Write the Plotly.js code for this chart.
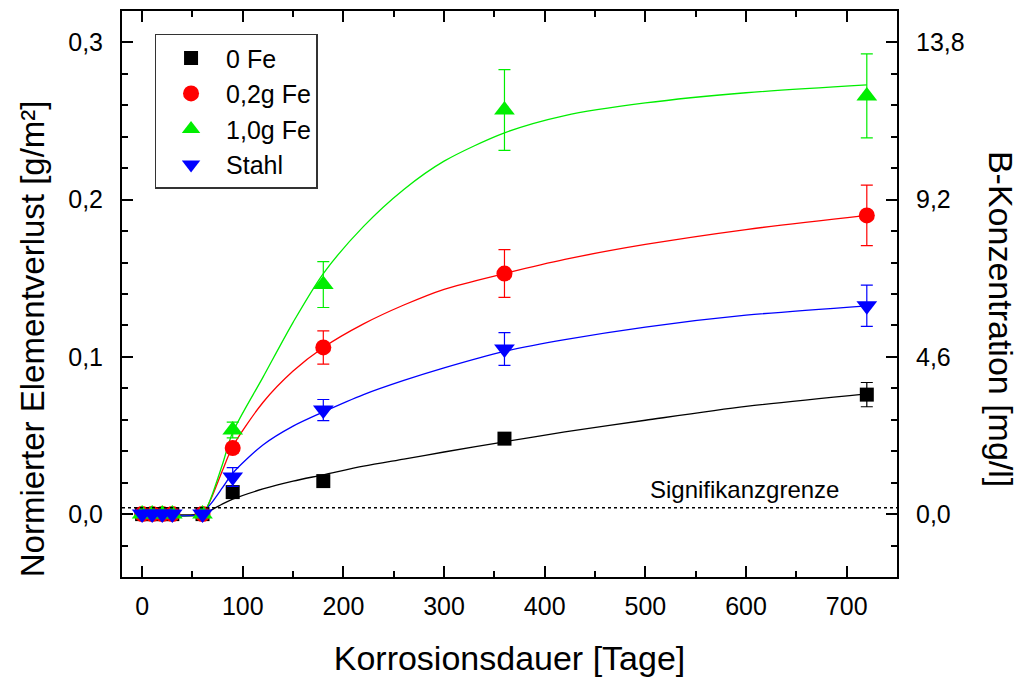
<!DOCTYPE html>
<html>
<head>
<meta charset="utf-8">
<script src="https://cdn.plot.ly/plotly-3.0.1.min.js"></script>
<style>html,body{margin:0;padding:0;background:#fff;}#chart{width:1023px;height:682px;}</style>
</head>
<body>
<div id="chart"></div>
<script>
// ---- measured data (days, g/m²) ----
const days = [0, 10, 20, 30, 60, 90, 180, 360, 720];

const fe0 = [0, 0, 0, 0, 0, 0.014, 0.021, 0.048, 0.076];
const fe0Err = [0, 0, 0, 0, 0, 0.002, 0.002, 0.003, 0.0077];

const fe02 = [0, 0, 0, 0, 0, 0.042, 0.106, 0.153, 0.190];
const fe02Err = [0, 0, 0, 0, 0, 0.003, 0.0106, 0.0152, 0.0192];

const fe10 = [0, 0, 0, 0, 0, 0.0535, 0.146, 0.257, 0.266];
const fe10Err = [0, 0, 0, 0, 0, 0.005, 0.0146, 0.0257, 0.0267];

const stahl = [0, 0, 0, 0, 0, 0.0236, 0.0662, 0.105, 0.1325];
const stahlErr = [0, 0, 0, 0, 0, 0.006, 0.0067, 0.0104, 0.0131];

// fitted curves
const fitDays = [0, 60, 65, 70, 80, 90, 120, 150, 180, 220, 260, 300, 360, 420, 500, 600, 720];
const fitFe0  = [0, 0, 0.0015, 0.003, 0.0065, 0.0095, 0.016, 0.021, 0.025, 0.0305, 0.035, 0.0395, 0.046, 0.0523, 0.0597, 0.0685, 0.0765];
const fitFe02 = [0, 0, 0.005, 0.012, 0.028, 0.043, 0.071, 0.091, 0.106, 0.121, 0.133, 0.143, 0.153, 0.162, 0.1715, 0.181, 0.190];
const fitFe10 = [0, 0, 0.005, 0.013, 0.032, 0.052, 0.087, 0.122, 0.153, 0.183, 0.2065, 0.2245, 0.2425, 0.2535, 0.2615, 0.268, 0.273];
const fitStahl= [0, 0, 0.004, 0.008, 0.017, 0.026, 0.044, 0.056, 0.065, 0.076, 0.085, 0.093, 0.1035, 0.111, 0.119, 0.1265, 0.1325];

const seriesNames = ['0 Fe', '0,2g Fe', '1,0g Fe', 'Stahl'];
const signifikanz = 0.004;
const bFactor = 46; // mg/l per g/m²

const yRange = [-0.04, 0.32];
const xRange = [-20, 750];

const FONT = 'Liberation Sans, Arial, Helvetica, sans-serif';

const defs = [
  {name: seriesNames[0], y: fe0, err: fe0Err, fit: fitFe0, color: '#000000', symbol: 'square', size: 14},
  {name: seriesNames[1], y: fe02, err: fe02Err, fit: fitFe02, color: '#ff0000', symbol: 'circle', size: 16},
  {name: seriesNames[2], y: fe10, err: fe10Err, fit: fitFe10, color: '#00ee00', symbol: 'triangle-up', size: 18},
  {name: seriesNames[3], y: stahl, err: stahlErr, fit: fitStahl, color: '#0000ff', symbol: 'triangle-down', size: 18}
];

const traces = [];
defs.forEach((d, i) => {
  traces.push({
    x: fitDays, y: d.fit, mode: 'lines', type: 'scatter',
    line: {color: d.color, width: 1.3, shape: 'spline', smoothing: 0.8},
    showlegend: false, hoverinfo: 'skip', legendgroup: 'g' + i
  });
});
defs.forEach((d, i) => {
  traces.push({
    x: days, y: d.y, mode: 'markers', type: 'scatter', name: d.name,
    legendgroup: 'g' + i,
    marker: {color: d.color, symbol: d.symbol, size: d.size},
    error_y: {type: 'data', array: d.err, visible: true, color: d.color, thickness: 1.2, width: 6}
  });
});
// dummy trace for the right axis
traces.push({x: [null], y: [null], yaxis: 'y2', showlegend: false, mode: 'markers'});

const layout = {
  width: 1023, height: 682,
  margin: {l: 122, r: 126, t: 11, b: 105},
  paper_bgcolor: '#ffffff', plot_bgcolor: '#ffffff',
  separators: ',.',
  font: {family: FONT, color: '#000', size: 24},
  showlegend: true,
  legend: {
    x: 0.042, y: 0.96, xanchor: 'left', yanchor: 'top',
    bordercolor: '#333', borderwidth: 1.5, bgcolor: '#fff',
    font: {family: FONT, size: 25, color: '#000'},
    traceorder: 'grouped', tracegroupgap: 0, itemwidth: 60
  },
  xaxis: {
    range: xRange, dtick: 100, tick0: 0,
    showline: true, linecolor: '#000', linewidth: 2, mirror: 'ticks',
    ticks: 'inside', ticklen: 11, tickwidth: 2, tickcolor: '#000',
    minor: {ticks: 'inside', dtick: 50, ticklen: 6, tickwidth: 2, tickcolor: '#000'},
    showgrid: false, zeroline: false,
    tickfont: {family: FONT, size: 25, color: '#000'},
    ticklabelstandoff: 6,
    title: {text: 'Korrosionsdauer [Tage]', font: {family: FONT, size: 34, color: '#000'}, standoff: 27}
  },
  yaxis: {
    range: yRange, dtick: 0.1, tick0: 0, tickformat: '.1f',
    showline: true, linecolor: '#000', linewidth: 2, mirror: false,
    ticks: 'inside', ticklen: 11, tickwidth: 2, tickcolor: '#000',
    minor: {ticks: 'inside', dtick: 0.02, ticklen: 6, tickwidth: 2, tickcolor: '#000'},
    showgrid: false, zeroline: false,
    tickfont: {family: FONT, size: 25, color: '#000'},
    ticklabelstandoff: 12
  },
  yaxis2: {
    overlaying: 'y', side: 'right',
    range: [yRange[0] * bFactor, yRange[1] * bFactor], dtick: 0.1 * bFactor, tick0: 0, tickformat: '.1f',
    showline: true, linecolor: '#000', linewidth: 2,
    ticks: 'inside', ticklen: 11, tickwidth: 2, tickcolor: '#000',
    minor: {ticks: 'inside', dtick: 0.02 * bFactor, ticklen: 6, tickwidth: 2, tickcolor: '#000'},
    showgrid: false, zeroline: false,
    tickfont: {family: FONT, size: 25, color: '#000'},
    ticklabelstandoff: 12
  },
  shapes: [{
    type: 'line', xref: 'paper', x0: 0, x1: 1, yref: 'y', y0: signifikanz, y1: signifikanz,
    line: {color: '#000', width: 1.5, dash: 'dot'}
  }],
  annotations: [
    {text: 'Signifikanzgrenze', xref: 'x', yref: 'y', x: 598, y: signifikanz, yshift: 3,
     xanchor: 'center', yanchor: 'bottom', showarrow: false,
     font: {family: FONT, size: 24, color: '#000'}},
    {text: 'Normierter Elementverlust [g/m²]', xref: 'paper', yref: 'paper', x: 0, xshift: -90, y: 0.42,
     textangle: -90, xanchor: 'center', yanchor: 'middle', showarrow: false,
     font: {family: FONT, size: 33, color: '#000'}},
    {text: 'B-Konzentration [mg/l]', xref: 'paper', yref: 'paper', x: 1, xshift: 104, y: 0.456,
     textangle: 90, xanchor: 'center', yanchor: 'middle', showarrow: false,
     font: {family: FONT, size: 34, color: '#000'}}
  ]
};

Plotly.newPlot('chart', traces, layout, {displayModeBar: false, staticPlot: true});
</script>
</body>
</html>
